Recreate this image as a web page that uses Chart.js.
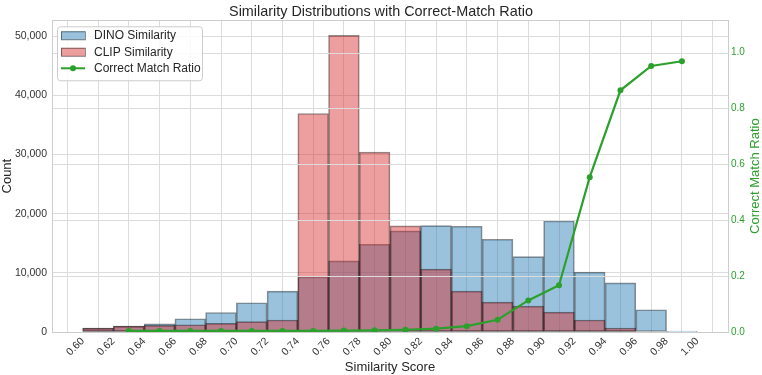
<!DOCTYPE html>
<html>
<head>
<meta charset="utf-8">
<script src="https://cdn.jsdelivr.net/npm/chart.js@4.4.0/dist/chart.umd.min.js"></script>
<style>
  html, body { margin: 0; padding: 0; background: #fff; }
</style>
</head>
<body>
<canvas id="chart" width="762" height="375"></canvas>
<script>
// data
const binCenters = [0.61, 0.63, 0.65, 0.67, 0.69, 0.71, 0.73, 0.75, 0.77, 0.79,
                    0.81, 0.83, 0.85, 0.87, 0.89, 0.91, 0.93, 0.95, 0.97, 0.99];
const dinoCounts = [660, 1000, 1400, 2240, 3300, 4940, 6910, 9320, 12020, 14830,
                    17070, 17970, 17860, 15670, 12740, 18760, 10110, 8310, 3760, 150];
const clipCounts = [660, 1000, 1120, 1230, 1450, 1740, 2020, 36910, 50100, 30390,
                    17920, 10620, 6910, 5060, 4380, 3370, 2020, 670, 0, 0];
const matchRatio = [null, 0.004, 0.004, 0.004, 0.004, 0.004, 0.004, 0.004, 0.005, 0.006,
                    0.008, 0.012, 0.021, 0.044, 0.113, 0.167, 0.554, 0.865, 0.952, 0.969];
const xTicks = [0.60, 0.62, 0.64, 0.66, 0.68, 0.70, 0.72, 0.74, 0.76, 0.78, 0.80,
                0.82, 0.84, 0.86, 0.88, 0.90, 0.92, 0.94, 0.96, 0.98, 1.00];
const countTicks = [0, 10000, 20000, 30000, 40000, 50000];
const ratioTicks = [0, 0.2, 0.4, 0.6, 0.8, 1.0];

const FONT = "'Liberation Sans', Arial, sans-serif";
const GREEN = '#2ca02c';
const GRID = '#dcdcdc';

function pts(vals) {
  return binCenters.map((x, i) => ({x: x, y: vals[i]}));
}

// right-axis grid goes over the bars (twin axis), under the line
const ratioGrid = {
  id: 'ratioGrid',
  beforeDatasetDraw(chart, args) {
    if (args.index !== 0) return;
    const ctx = chart.ctx, a = chart.chartArea, s = chart.scales.y1;
    ctx.save();
    ctx.strokeStyle = GRID;
    ctx.lineWidth = 1;
    ratioTicks.forEach(v => {
      const y = Math.round(s.getPixelForValue(v)) + 0.5;
      ctx.beginPath(); ctx.moveTo(a.left, y); ctx.lineTo(a.right, y); ctx.stroke();
    });
    ctx.restore();
  },
  afterDatasetsDraw(chart) {
    const ctx = chart.ctx, a = chart.chartArea;
    ctx.save();
    ctx.strokeStyle = '#cccccc';
    ctx.lineWidth = 1;
    ctx.strokeRect(Math.round(a.left) + 0.5, Math.round(a.top) + 0.5,
                   Math.round(a.right - a.left), Math.round(a.bottom - a.top));
    // right axis title, reading bottom to top like the left one
    ctx.translate(chart.width - 7, (a.top + a.bottom) / 2);
    ctx.rotate(-Math.PI / 2);
    ctx.font = '13px ' + FONT;
    ctx.fillStyle = GREEN;
    ctx.textAlign = 'center';
    ctx.textBaseline = 'middle';
    ctx.fillText('Correct Match Ratio', 0, 0);
    ctx.restore();
  }
};

const boxLegend = {
  id: 'boxLegend',
  afterDraw(chart) {
    const ctx = chart.ctx, a = chart.chartArea;
    const x = a.left + 5, y = a.top + 6, w = 145, h = 54;
    ctx.save();
    ctx.beginPath();
    ctx.roundRect(x + 0.5, y + 0.5, w, h, 3);
    ctx.fillStyle = 'rgba(255,255,255,0.85)';
    ctx.fill();
    ctx.strokeStyle = '#cccccc';
    ctx.stroke();
    const ds = chart.data.datasets;
    const rows = [ds[2], ds[1], ds[0]];
    ctx.font = '12px ' + FONT;
    ctx.textBaseline = 'middle';
    rows.forEach((d, i) => {
      const cy = y + 9 + i * 16.5;
      if (d.type === 'line') {
        ctx.strokeStyle = GREEN; ctx.lineWidth = 2;
        ctx.beginPath(); ctx.moveTo(x + 4, cy); ctx.lineTo(x + 28, cy); ctx.stroke();
        ctx.fillStyle = GREEN;
        ctx.beginPath(); ctx.arc(x + 16, cy, 3, 0, Math.PI * 2); ctx.fill();
      } else {
        ctx.fillStyle = d.backgroundColor;
        ctx.fillRect(x + 4, cy - 4, 24, 8.5);
        ctx.strokeStyle = d.borderColor; ctx.lineWidth = 1;
        ctx.strokeRect(x + 4.5, cy - 3.5, 24, 8);
      }
      ctx.fillStyle = '#262626';
      ctx.fillText(d.label, x + 37, cy + 0.5);
    });
    ctx.restore();
  }
};

const config = {
  data: {
    datasets: [
      {
        type: 'line',
        label: 'Correct Match Ratio',
        data: pts(matchRatio),
        yAxisID: 'y1',
        borderColor: GREEN,
        backgroundColor: GREEN,
        borderWidth: 2.2,
        pointRadius: 3,
        pointBackgroundColor: GREEN,
        pointBorderWidth: 0,
        spanGaps: false,
        order: 0
      },
      {
        type: 'bar',
        label: 'CLIP Similarity',
        data: pts(clipCounts),
        yAxisID: 'y',
        backgroundColor: 'rgba(214,39,40,0.45)',
        borderColor: 'rgba(0,0,0,0.45)',
        borderWidth: 1,
        borderSkipped: false,
        grouped: false,
        barPercentage: 1,
        categoryPercentage: 1,
        order: 1
      },
      {
        type: 'bar',
        label: 'DINO Similarity',
        data: pts(dinoCounts),
        yAxisID: 'y',
        backgroundColor: 'rgba(31,119,180,0.45)',
        borderColor: 'rgba(0,0,0,0.45)',
        borderWidth: 1,
        borderSkipped: false,
        grouped: false,
        barPercentage: 1,
        categoryPercentage: 1,
        order: 2
      }
    ]
  },
  options: {
    responsive: false,
    animation: false,
    layout: { padding: 0 },
    plugins: {
      legend: { display: false },
      tooltip: { enabled: false },
      title: {
        display: true,
        text: 'Similarity Distributions with Correct-Match Ratio',
        color: '#262626',
        font: { family: FONT, size: 14.4, weight: 'normal' },
        padding: { top: 3, bottom: 0 }
      }
    },
    scales: {
      x: {
        type: 'linear',
        min: 0.58,
        max: 1.02,
        offset: false,
        afterBuildTicks: s => { s.ticks = xTicks.map(v => ({value: v})); },
        afterFit: s => { s.height = 43; },
        ticks: {
          callback: v => Number(v).toFixed(2),
          minRotation: 45,
          maxRotation: 45,
          autoSkip: false,
          padding: 3,
          color: '#333',
          font: { family: FONT, size: 10.5 }
        },
        grid: { color: GRID, drawTicks: false },
        border: { display: false },
        title: {
          display: true,
          text: 'Similarity Score',
          color: '#262626',
          padding: 0,
          font: { family: FONT, size: 13 }
        }
      },
      y: {
        position: 'left',
        min: 0,
        max: 52660,
        afterBuildTicks: s => { s.ticks = countTicks.map(v => ({value: v})); },
        afterFit: s => { s.width = 52; },
        ticks: {
          callback: v => Number(v).toLocaleString('en-US'),
          padding: 5,
          color: '#333',
          font: { family: FONT, size: 10.5 }
        },
        grid: { color: GRID, drawTicks: false },
        border: { display: false },
        title: {
          display: true,
          text: 'Count',
          color: '#262626',
          padding: 0,
          font: { family: FONT, size: 13 }
        }
      },
      y1: {
        position: 'right',
        min: 0,
        max: 1.1155,
        afterBuildTicks: s => { s.ticks = ratioTicks.map(v => ({value: v})); },
        afterFit: s => { s.width = 34; },
        ticks: {
          callback: v => Number(v).toFixed(1),
          padding: 3,
          color: GREEN,
          font: { family: FONT, size: 10 }
        },
        grid: { display: false, drawTicks: false },
        border: { display: false },
        title: { display: false }
      }
    }
  },
  plugins: [ratioGrid, boxLegend]
};

// render
var simChart = new Chart(document.getElementById('chart'), config);
</script>
</body>
</html>
